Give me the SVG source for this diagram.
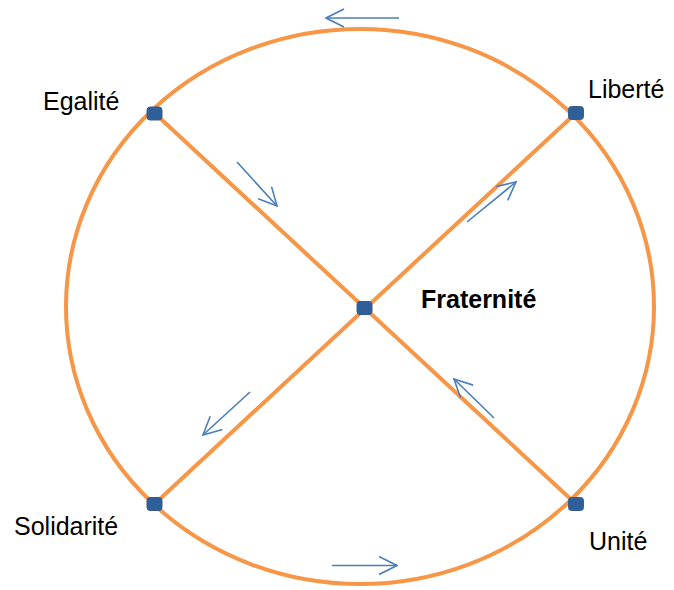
<svg xmlns="http://www.w3.org/2000/svg" width="674" height="590" viewBox="0 0 674 590">
<defs>
<style>
.ring{fill:none;stroke:#F79646;stroke-width:4}
.spoke{stroke:#F79646;stroke-width:4;fill:none}
.arr{stroke:#4A7EBB;stroke-width:1.6;fill:none;marker-end:url(#ah)}
.node{fill:#2F5F9A;stroke:#385D8A;stroke-width:1}
.lbl{font-family:"Liberation Sans",Arial,sans-serif;font-size:25px;fill:#000}
.bold{font-weight:bold}
</style>
<marker id="ah" viewBox="0 0 20 20" refX="19" refY="10" markerWidth="20" markerHeight="20" markerUnits="userSpaceOnUse" orient="auto">
<path d="M1,1 L19,10 L1,19" fill="none" stroke="#4A7EBB" stroke-width="1.6"/>
</marker>
</defs>
<g id="ring"><ellipse class="ring" cx="360" cy="306.5" rx="294" ry="277.5"/></g>
<g id="connectors">
<line class="spoke" x1="154.5" y1="113" x2="576" y2="504"/>
<line class="spoke" x1="154.5" y1="504" x2="576" y2="113"/>
<line class="arr" x1="399" y1="18" x2="326" y2="18"/>
<line class="arr" x1="332" y1="565.5" x2="397" y2="565.5"/>
<line class="arr" x1="237" y1="162" x2="277" y2="206"/>
<line class="arr" x1="467" y1="222" x2="516" y2="182"/>
<line class="arr" x1="494" y1="418" x2="454" y2="379"/>
<line class="arr" x1="250" y1="392" x2="203" y2="435"/>
</g>
<g id="egalite"><rect class="node" x="147" y="107" width="15" height="13" rx="3"/><text class="lbl" x="43" y="110">Egalité</text></g>
<g id="liberte"><rect class="node" x="568.5" y="106.5" width="15" height="13" rx="3"/><text class="lbl" x="588" y="98">Liberté</text></g>
<g id="fraternite"><rect class="node" x="357" y="301.5" width="15" height="13" rx="3"/><text class="lbl bold" x="421" y="308">Fraternité</text></g>
<g id="solidarite"><rect class="node" x="147" y="497.5" width="15" height="13" rx="3"/><text class="lbl" x="14" y="535">Solidarité</text></g>
<g id="unite"><rect class="node" x="568.5" y="497.5" width="15" height="13" rx="3"/><text class="lbl" x="589" y="550">Unité</text></g>
</svg>
